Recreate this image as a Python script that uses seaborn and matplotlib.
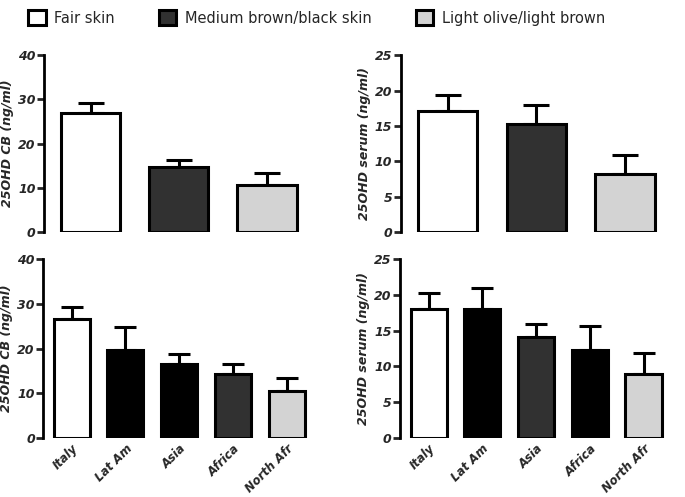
import numpy as np
import matplotlib
matplotlib.use("Agg")
import matplotlib.pyplot as plt
import seaborn as sns
from matplotlib.patches import Patch

sns.set_style("white")
plt.rcParams['font.family'] = ['DejaVu Sans']

# skin groups (top row)
skin_groups = ["Fair skin", "Medium brown/black skin", "Light olive/light brown"]
skin_colors = ["#ffffff", "#313131", "#d3d3d3"]
cb_skin = [26.9, 14.7, 10.6]
cb_skin_err = [2.2, 1.6, 2.7]
serum_skin = [17.1, 15.25, 8.2]
serum_skin_err = [2.25, 2.65, 2.7]

# origin groups (bottom row)
origins = ["Italy", "Lat Am", "Asia", "Africa", "North Afr"]
cb_origin = [26.7, 19.7, 16.5, 14.3, 10.4]
cb_origin_err = [2.7, 5.1, 2.3, 2.3, 3.0]
cb_origin_colors = ["#ffffff", "#000000", "#000000", "#313131", "#d3d3d3"]
serum_origin = [18.0, 18.0, 14.1, 12.3, 9.0]
serum_origin_err = [2.35, 3.05, 1.9, 3.35, 2.95]
serum_origin_colors = ["#ffffff", "#000000", "#313131", "#000000", "#d3d3d3"]

tick_font = dict(fontstyle="italic", fontweight="bold", fontsize=9)

fig = plt.figure(figsize=(6.85, 4.97), dpi=100)
axes = [
    fig.add_axes([0.064, 0.533, 0.394, 0.356]),
    fig.add_axes([0.585, 0.533, 0.396, 0.356]),
    fig.add_axes([0.063, 0.119, 0.397, 0.359]),
    fig.add_axes([0.584, 0.119, 0.397, 0.359]),
]

panels = [
    (skin_groups, cb_skin, cb_skin_err, skin_colors, 40, 10, "25OHD CB (ng/ml)", False, 9.5),
    (skin_groups, serum_skin, serum_skin_err, skin_colors, 25, 5, "25OHD serum (ng/ml)", False, 9.5),
    (origins, cb_origin, cb_origin_err, cb_origin_colors, 40, 10, "25OHD CB (ng/ml)", True, 8),
    (origins, serum_origin, serum_origin_err, serum_origin_colors, 25, 5, "25OHD serum (ng/ml)", True, 8),
]

for ax, (cats, vals, errs, cols, ymax, step, ylab, show_x, cap) in zip(axes, panels):
    n = len(cats)
    sns.barplot(x=cats, y=vals, hue=cats, palette=cols, legend=False,
                width=0.67, edgecolor="black", linewidth=2.2, ax=ax, zorder=3)
    ax.errorbar(np.arange(n), vals, yerr=[np.zeros(n), errs], fmt="none",
                ecolor="black", elinewidth=2.2, capsize=cap, capthick=2.2, zorder=2)
    ax.set_xlim(-0.53, n - 1 + 0.53)
    ax.set_ylim(0, ymax)
    ax.set_yticks(np.arange(0, ymax + 1, step))
    ax.set_yticklabels([str(v) for v in range(0, ymax + 1, step)], **tick_font)
    ax.set_ylabel(ylab, labelpad=3, **tick_font)
    for s in ["top", "right", "bottom"]:
        ax.spines[s].set_visible(False)
    ax.spines["left"].set_linewidth(2)
    ax.spines["left"].set_color("black")
    ax.tick_params(axis="y", direction="out", length=5, width=2, pad=1, left=True)
    if show_x:
        ax.set_xticks(np.arange(n))
        ax.set_xticklabels(cats, rotation=45, ha="right", rotation_mode="anchor",
                           fontstyle="italic", fontweight="bold", fontsize=8.5)
        ax.tick_params(axis="x", length=0, pad=3)
    else:
        ax.set_xticks([])
    ax.set_xlabel("")

handles = [Patch(facecolor=c, edgecolor="black", linewidth=2.2) for c in skin_colors]
fig.legend(handles, skin_groups, loc="upper left", bbox_to_anchor=(0.022, 1.006),
           ncol=3, frameon=False, fontsize=10.5, handlelength=1.2, handleheight=1.2,
           handletextpad=0.6, columnspacing=3.0)

fig.savefig("out.png", dpi=100)
